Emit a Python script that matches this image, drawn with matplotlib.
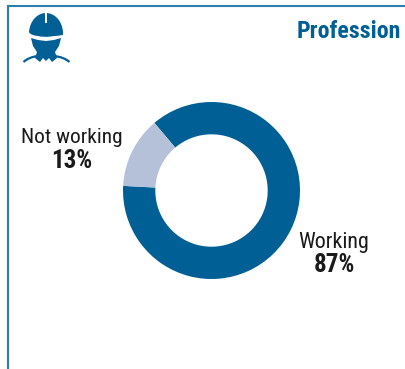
import matplotlib
matplotlib.use("Agg")
import matplotlib.pyplot as plt
from matplotlib.patches import Polygon, PathPatch, Rectangle
from matplotlib.path import Path

categories = ["Working", "Not working"]
shares = [87, 13]
colors = ["#005f94", "#b5c1d9"]
title = "Profession"

blue = "#005f94"
frame = "#2b7fae"
ink = "#1a1a1a"
W, H = 406, 369

plt.rcParams["font.family"] = ["Roboto Condensed", "DejaVu Sans"]
fig = plt.figure(figsize=(W / 100, H / 100), dpi=100, facecolor="white")

# overlay in pixel units for frame, icon and labels
bg = fig.add_axes([0, 0, 1, 1])
bg.set_xlim(0, W)
bg.set_ylim(H, 0)
bg.axis("off")

bg.plot([8.5, 8.5, W], [H, 5.5, 5.5], color=frame, lw=1.5, solid_joinstyle="miter")

# helmet
dome = Path(
    [(29, 32), (30, 20), (38, 13), (46, 13), (54, 13), (62, 20), (63, 32),
     (63, 35), (54, 36), (46, 38), (38, 36), (29, 35), (29, 32), (29, 32)],
    [Path.MOVETO, Path.CURVE4, Path.CURVE4, Path.CURVE4, Path.CURVE4, Path.CURVE4, Path.CURVE4,
     Path.LINETO, Path.CURVE4, Path.CURVE4, Path.CURVE4, Path.CURVE4, Path.LINETO, Path.CLOSEPOLY],
)
bg.add_patch(PathPatch(dome, fc=blue, ec="none"))
bg.add_patch(Rectangle((45.3, 13), 2, 10, fc="white", ec="none"))

# face and neck
face = Polygon(
    [(31, 38), (38, 40), (46, 41), (54, 40), (61, 38), (59, 46), (55, 52), (57, 58),
     (52, 62), (49, 58), (46, 61), (43, 58), (40, 62), (35, 58), (37, 52), (33, 46)],
    closed=True, fc=blue, ec="none",
)
bg.add_patch(face)

# shoulders
for x0, x1, x2 in [(23.5, 29, 38), (69.5, 64, 54)]:
    arm = Path([(x0, 62), (x1, 57), (x2, 56)], [Path.MOVETO, Path.CURVE3, Path.CURVE3])
    bg.add_patch(PathPatch(arm, fc="none", ec=blue, lw=1.6))

bg.text(401, 32, title, ha="right", va="center", color=blue,
        fontsize=17.2, fontweight="bold")

bg.text(71.5, 137.5, categories[1], ha="center", va="center", color=ink, fontsize=15.4)
bg.text(71.5, 160.5, f"{shares[1]}%", ha="center", va="center", color=ink,
        fontsize=18, fontweight="bold")
bg.text(334, 242.5, categories[0], ha="center", va="center", color=ink, fontsize=15.8)
bg.text(334, 265.5, f"{shares[0]}%", ha="center", va="center", color=ink,
        fontsize=18, fontweight="bold")

# donut
cx, cy, r = 211.5, 190.5, 88.5
ax = fig.add_axes([(cx - r) / W, 1 - (cy + r) / H, 2 * r / W, 2 * r / H])
ax.pie(shares, colors=colors, startangle=177, counterclock=True,
       radius=1, wedgeprops=dict(width=0.365, edgecolor="none"))
ax.set_xlim(-1, 1)
ax.set_ylim(-1, 1)

fig.savefig("out.png", dpi=100)
